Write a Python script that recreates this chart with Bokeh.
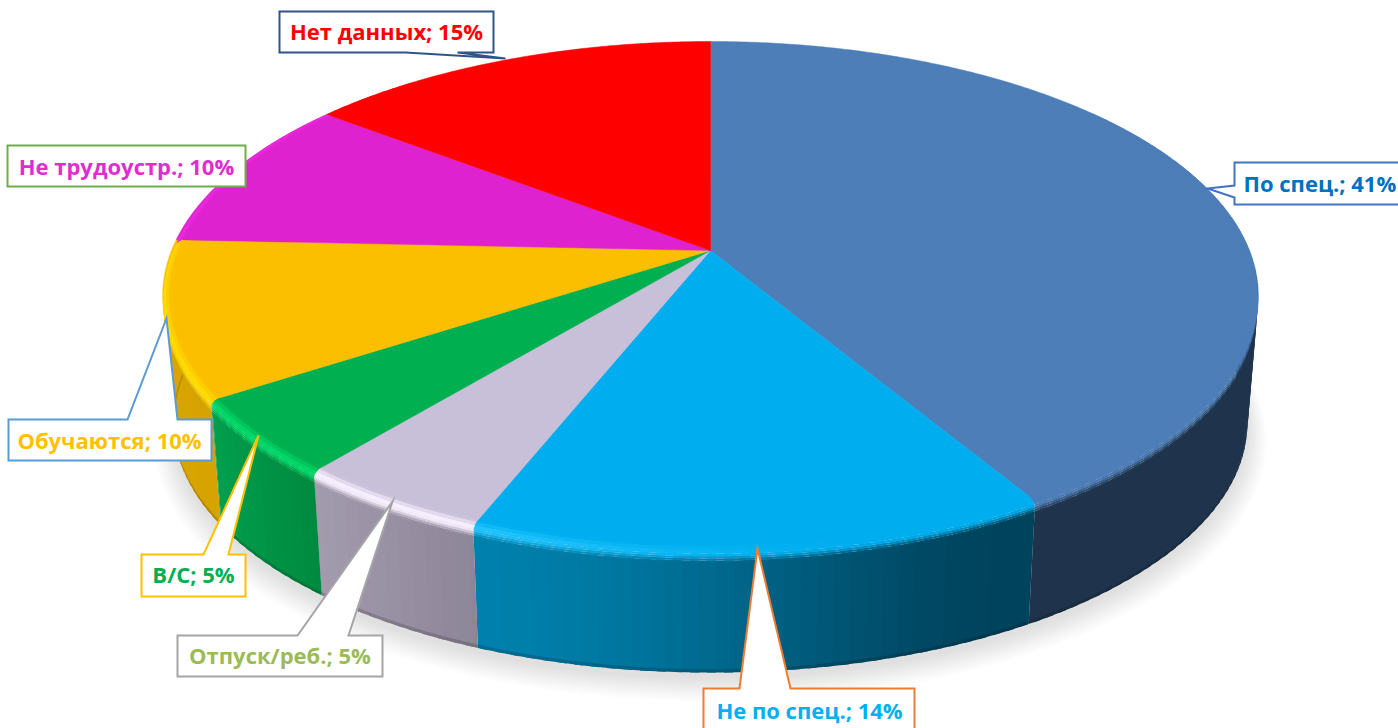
import numpy as np
from bokeh.plotting import figure
from bokeh.models import ColumnDataSource
from bokeh.core.properties import value
from bokeh.embed import file_html
from bokeh.resources import INLINE

# ---- data ----
categories = ["По спец.", "Не по спец.", "Отпуск/реб.", "В/С", "Обучаются", "Не трудоустр.", "Нет данных"]
shares = [41.49, 14.49, 4.95, 4.82, 9.95, 9.8, 14.5]
shown_percent = ["41%", "14%", "5%", "5%", "10%", "10%", "15%"]

# ---- styles ----
top_colors = ["#4D7EB8", "#00AEEF", "#C8BFD8", "#00AF50", "#FBBF00", "#DF22CF", "#FF0000"]
rim_colors = ["#4D7EB8", "#22C6FF", "#F8F0FF", "#00D868", "#FFDC00", "#F22CE6", "#FF0000"]
side_right = ["#1F344C", "#00435D", "#8E8598", "#008A3F", "#D6A300", "#B010A0", "#C00000"]
side_left = ["#1F344C", "#0080AC", "#A39BAE", "#00A04E", "#D9A600", "#B010A0", "#C00000"]
label_colors = ["#0070C0", "#00B0F0", "#9BBB59", "#00B050", "#FFC000", "#E22CD0", "#FF0000"]
box_colors = ["#4472C4", "#ED7D31", "#A5A5A5", "#FFC000", "#5B9BD5", "#70AD47", "#2F5487"]

# callout outline: left, right, top, bottom, tail base a, tip, tail base b, side of tail
boxes = [
    (1234, 1420, 162, 204, (1234, 185), (1207, 188), (1234, 197), "left"),
    (703, 914, 688, 735, (739, 688), (757, 548), (790, 688), "top"),
    (177, 382, 635, 676, (297, 635), (392, 501), (348, 635), "top"),
    (141, 245, 554, 596, (203, 554), (258, 435), (228, 554), "top"),
    (8, 211, 419, 460, (127, 419), (166, 318), (177, 419), "top"),
    (7, 245, 145, 186, None, None, None, None),
    (279, 493, 11, 52, (457, 52), (505, 58), (405, 52), "bottom"),
]
label_pos = [(1243, 182), (809, 709), (279.5, 654), (193, 573), (109, 439), (126, 165), (386, 30)]
label_anchor = ["left", "center", "center", "center", "center", "center", "center"]

# ---- perspective projection of the disc ----
CX, CY = 710.0, 250.0
A, B, K = 539.0, 246.4, 0.179
DROP, SHRINK = 128.0, 0.02


def project(phi_deg, r=1.0, z=0.0, dy=0.0):
    a = np.radians(phi_deg)
    X, Y = r * np.sin(a), r * np.cos(a)
    w = 1 + K * Y
    s = 1 - SHRINK * z
    return CX + s * A * X / w, CY + DROP * z + dy - s * B * Y / w


def rgb(h):
    return np.array([int(h[i:i + 2], 16) for i in (1, 3, 5)], float)


def mix(c1, c2, t):
    c = rgb(c1) * (1 - t) + rgb(c2) * t
    return "#%02x%02x%02x" % tuple(int(round(v)) for v in c)


def smooth(e0, e1, x):
    t = np.clip((x - e0) / (e1 - e0), 0, 1)
    return t * t * (3 - 2 * t)


edges = np.concatenate([[0], np.cumsum(shares)]) / sum(shares) * 360.0


def slice_index(phi):
    return min(int(np.searchsorted(edges, phi, side="right")) - 1, len(shares) - 1)


def side_color(phi):
    i = slice_index(phi)
    t = (phi - edges[i]) / (edges[i + 1] - edges[i])
    if i == 1:
        t = smooth(0.05, 1.0, t) ** 0.9
    return mix(side_right[i], side_left[i], t)


p = figure(width=1398, height=728, x_range=(0, 1398), y_range=(728, 0),
           output_backend="svg", toolbar_location=None,
           x_axis_location=None, y_axis_location=None,
           min_border=0, outline_line_color=None, background_fill_color="white")
p.grid.visible = False

# ---- soft shadow ----
circ = np.arange(0, 360, 2.0)
layers = 10
for j in range(layers):
    f = j / (layers - 1)
    xs, ys = project(circ, r=1.034 - 0.034 * f, z=1.0, dy=16 - 10 * f)
    p.patch(xs, ys, fill_color=mix("#FCFCFC", "#E0E0E0", f), line_color=None)

# ---- side wall: each cell overlaps the next one, so no seams show ----
STEP = 1.5
OVER = 0.8
Z0, Z1, Z2 = 0.10, 0.972, 1.0
side_xs, side_ys, side_col = [], [], []
phis = np.arange(70, 300, STEP)
breaks = sorted(set(list(phis) + [e for e in edges if 70 < e < 300] + [300.0]))
for a0, a1 in zip(breaks[:-1], breaks[1:]):
    mid = (a0 + a1) / 2
    c = side_color(mid)
    for zt, zb, col in [(Z0 - 0.01, Z1 + 0.005, c), (Z1, Z2, mix(c, "#000000", 0.16))]:
        ae = a1 + OVER if a1 < 300 else a1
        if any(a0 < e < ae for e in edges):
            ae = a1
        x0, y0 = project(a0, z=zt)
        x1, y1 = project(ae, z=zt)
        x2, y2 = project(ae, z=zb)
        x3, y3 = project(a0, z=zb)
        side_xs.append([x0, x1, x2, x3])
        side_ys.append([y0, y1, y2, y3])
        side_col.append(col)
p.patches("xs", "ys", fill_color="color", line_color=None,
          source=ColumnDataSource(dict(xs=side_xs, ys=side_ys, color=side_col)))

# ---- top face ----
for i, c in enumerate(top_colors):
    arc = np.linspace(edges[i], edges[i + 1], max(3, int(edges[i + 1] - edges[i]) * 2))
    xa, ya = project(arc)
    p.patch(np.r_[CX, xa], np.r_[CY, ya], fill_color=c, line_color=c, line_width=0.5)

# ---- bevel along the rim, inner rings drawn last over the outer ones ----
RINGS = 7
bev_xs, bev_ys, bev_col = [], [], []
bphis = np.arange(52, 322, STEP)
bbreaks = sorted(set(list(bphis) + [e for e in edges if 52 < e < 322]))


def place(t, gain):
    r = 0.983 + 0.017 * min(t / 0.45, 1.0)
    z = Z0 * gain * max((t - 0.2) / 0.8, 0.0)
    return r, z


for k in reversed(range(RINGS)):
    t0, t1 = k / RINGS, (k + 1) / RINGS
    tm = (t0 + t1) / 2
    for a0, a1 in zip(bbreaks[:-1], bbreaks[1:]):
        mid = (a0 + a1) / 2
        i = slice_index(mid)
        gain = smooth(82, 122, mid) * (1 - smooth(262, 300, mid))
        hi = smooth(165, 208, mid) * (0.55 + 0.45 * (1 - smooth(250, 320, mid)))
        hi_col = mix(top_colors[i], rim_colors[i], hi)
        end_col = mix(top_colors[i], side_color(min(mid, 299)), smooth(52, 90, mid) * (0.35 + 0.65 * gain))
        if mid > 262:
            end_col = mix(hi_col, end_col, gain)
        ae = a1 + OVER
        if any(a0 < e < ae for e in edges):
            ae = a1
        r0, z0 = place(t0, gain)
        r1, z1 = place(t1, gain)
        x0, y0 = project(a0, r0, z0)
        x1, y1 = project(ae, r0, z0)
        x2, y2 = project(ae, r1, z1)
        x3, y3 = project(a0, r1, z1)
        if tm < 0.4:
            col = mix(top_colors[i], hi_col, smooth(0, 0.4, tm))
        else:
            col = mix(hi_col, end_col, smooth(0.4, 1.0, tm))
        bev_xs.append([x0, x1, x2, x3])
        bev_ys.append([y0, y1, y2, y3])
        bev_col.append(col)
p.patches("xs", "ys", fill_color="color", line_color=None,
          source=ColumnDataSource(dict(xs=bev_xs, ys=bev_ys, color=bev_col)))

# ---- callouts ----
for (l, r, t, b, ta, tip, tb, where), col in zip(boxes, box_colors):
    if where == "top":
        xs = [l, ta[0], tip[0], tb[0], r, r, l]
        ys = [t, ta[1], tip[1], tb[1], t, b, b]
    elif where == "left":
        xs = [l, r, r, l, tb[0], tip[0], ta[0]]
        ys = [t, t, b, b, tb[1], tip[1], ta[1]]
    elif where == "bottom":
        xs = [l, r, r, ta[0], tip[0], tb[0], l]
        ys = [t, t, b, ta[1], tip[1], tb[1], b]
    else:
        xs = [l, r, r, l]
        ys = [t, t, b, b]
    p.patch(xs, ys, fill_color="white", line_color=col, line_width=2, line_join="miter")

# ---- labels ----
labels = [f"{c}; {v}" for c, v in zip(categories, shown_percent)]
for lab, (x, y), col, anc in zip(labels, label_pos, label_colors, label_anchor):
    p.text([x], [y], text=[lab], text_color=col, text_align=anc, text_baseline="middle",
           text_font=value("Open Sans"), text_font_size="22px", text_font_style="bold")

open("out.html", "w").write(file_html(p, INLINE))
